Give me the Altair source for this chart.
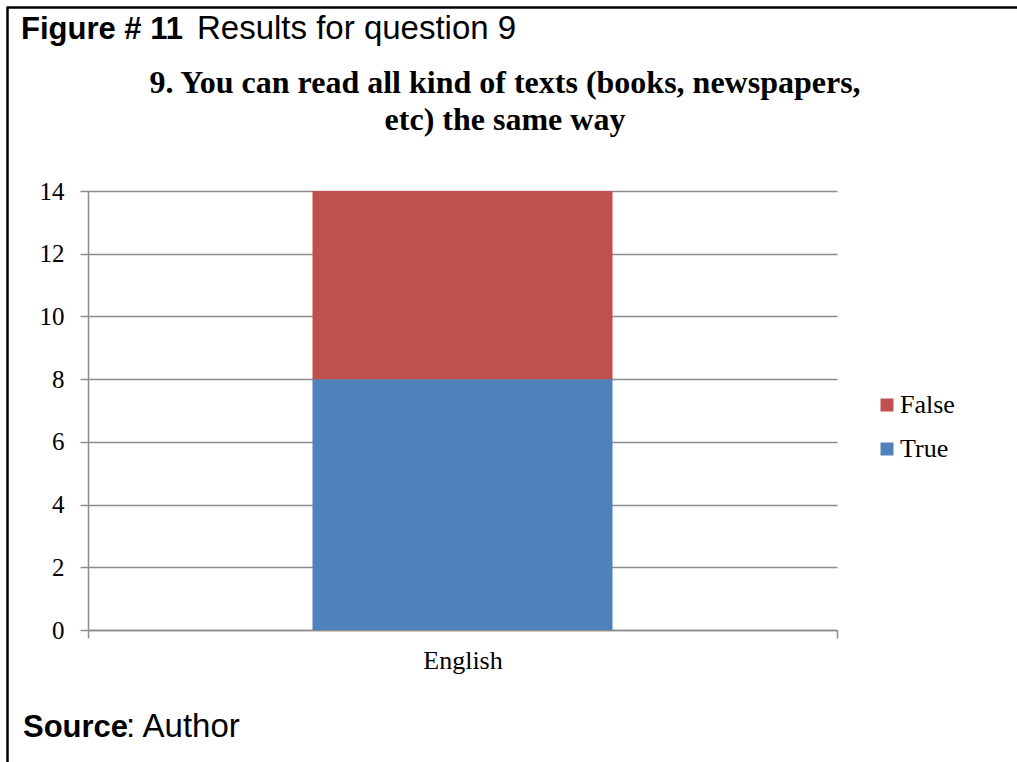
import altair as alt
import pandas as pd

# Survey answers for question 9
languages = ["English"]
answers = ["True", "False"]
counts = [8, 6]
stack_rank = [0, 1]

legend_order = ["False", "True"]
answer_colors = ["#C0504D", "#4F81BD"]

title_lines = [
    "9. You can read all kind of texts (books, newspapers,",
    "etc) the same way",
]

df = pd.DataFrame({
    "language": languages * len(answers),
    "answer": answers,
    "count": counts,
    "rank": stack_rank,
})

SERIF = "Liberation Serif"
SANS = "Liberation Sans"
GRID = "#8C8C8C"

bars = alt.Chart(df).mark_bar(size=300).encode(
    x=alt.X(
        "language:N",
        title=None,
        scale=alt.Scale(paddingInner=0, paddingOuter=0),
        axis=alt.Axis(
            labelAngle=0,
            labelFont=SERIF,
            labelFontSize=26,
            labelColor="#000000",
            labelPadding=9,
            tickBand="extent",
            tickSize=8,
            tickColor=GRID,
            tickWidth=1.5,
            domainColor=GRID,
            domainWidth=1.5,
            grid=False,
        ),
    ),
    y=alt.Y(
        "count:Q",
        title=None,
        stack="zero",
        scale=alt.Scale(domain=[0, 14], nice=False),
        axis=alt.Axis(
            values=[0, 2, 4, 6, 8, 10, 12, 14],
            labelFont=SERIF,
            labelFontSize=25,
            labelColor="#000000",
            labelPadding=16,
            tickSize=8,
            tickColor=GRID,
            tickWidth=1.5,
            domainColor=GRID,
            domainWidth=1.5,
            gridColor=GRID,
            gridWidth=1.5,
        ),
    ),
    color=alt.Color(
        "answer:N",
        scale=alt.Scale(domain=legend_order, range=answer_colors),
        legend=alt.Legend(
            title=None,
            orient="none",
            legendX=786,
            legendY=201,
            symbolType="square",
            symbolSize=169,
            symbolStrokeWidth=0,
            labelFont=SERIF,
            labelFontSize=26,
            labelColor="#000000",
            labelOffset=0,
            rowPadding=18,
        ),
    ),
    order=alt.Order("rank:Q"),
)

one = pd.DataFrame({"k": [0]})


def label(text, x, y, font, size, weight="normal", align="left"):
    return alt.Chart(one).mark_text(
        text=text, font=font, fontSize=size, fontWeight=weight,
        align=align, baseline="alphabetic", color="#000000",
    ).encode(x=alt.value(x), y=alt.value(y))


# Chart heading, centred above the plot
heading = (
    label(title_lines[0], 417, -98, SERIF, 32, "bold", "center")
    + label(title_lines[1], 417, -61, SERIF, 32, "bold", "center")
)

# Figure caption and source note
caption = (
    label("Figure # 11", -67, -152, SANS, 31, "bold")
    + label("Results for question 9", 109, -152, SANS, 33)
    + label("Source", -65, 546, SANS, 31, "bold")
    + label(": Author", 38, 546, SANS, 33)
)

# Page frame: left and top edges
frame = (
    alt.Chart(one).mark_rule(color="#000000", strokeWidth=2.5).encode(
        x=alt.value(-80.5), y=alt.value(-183.5), y2=alt.value(580)
    )
    + alt.Chart(one).mark_rule(color="#000000", strokeWidth=2.5).encode(
        x=alt.value(-81.5), x2=alt.value(940), y=alt.value(-183.5)
    )
)

chart = (
    alt.layer(bars, heading, caption, frame)
    .properties(
        width=749,
        height=439,
        padding={"left": 88, "top": 191, "right": 180, "bottom": 132},
        autosize=alt.AutoSizeParams(type="none"),
        background="#FFFFFF",
    )
    .configure_view(stroke=None)
)

chart.save("out.html", embed_options={"renderer": "svg", "actions": False})
